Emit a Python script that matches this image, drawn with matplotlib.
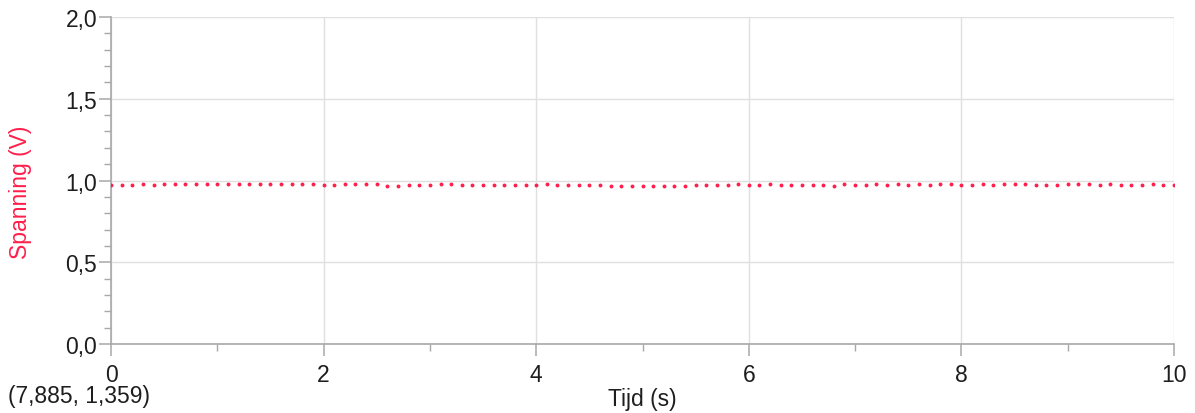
import numpy as np
import matplotlib
matplotlib.use("Agg")
import matplotlib.pyplot as plt
from matplotlib.ticker import MultipleLocator, FuncFormatter

plt.rcParams['font.family'] = ['Liberation Sans', 'DejaVu Sans']

# Sample times (s), 0.1 s interval
tijd = [round(0.1 * i, 1) for i in range(101)]

# Measured voltage (V)
spanning = [
    0.972, 0.972, 0.972, 0.976, 0.972, 0.976, 0.978, 0.976, 0.976, 0.976,
    0.978, 0.976, 0.978, 0.976, 0.978, 0.976, 0.976, 0.976, 0.976, 0.976,
    0.972, 0.972, 0.976, 0.976, 0.976, 0.976,
    0.969, 0.969, 0.974, 0.974, 0.974, 0.976, 0.976, 0.974, 0.974, 0.974,
    0.974, 0.974, 0.974, 0.974, 0.974,
    0.976, 0.974, 0.974, 0.972, 0.974, 0.972, 0.969, 0.965, 0.967, 0.965,
    0.967,
    0.969, 0.969, 0.969, 0.974, 0.974, 0.974, 0.974, 0.976, 0.974, 0.974,
    0.978, 0.974, 0.974, 0.974, 0.974, 0.974, 0.969, 0.978, 0.974, 0.974,
    0.978, 0.974, 0.978, 0.974, 0.976,
    0.972, 0.976, 0.976, 0.972, 0.972, 0.976, 0.972, 0.976, 0.976, 0.976,
    0.972, 0.972, 0.972, 0.976, 0.976, 0.976, 0.972, 0.976, 0.972, 0.972,
    0.972, 0.976, 0.972, 0.972,
]

y_ticks = [0.0, 0.5, 1.0, 1.5, 2.0]
x_ticks = [0, 2, 4, 6, 8, 10]
cursor_text = "(7,885, 1,359)"

red = '#ff1f4b'
axis_gray = '#a8a8a8'
grid_gray = '#e0e0e0'
text_col = '#1e1e1e'
fs = 16.5

fig = plt.figure(figsize=(11.95, 4.14), dpi=100)
ax = fig.add_axes([111 / 1195, 1 - 345 / 414, (1174 - 111) / 1195, (345 - 18) / 414])

ax.plot(tijd, spanning, linestyle='none', marker='o', markersize=2.8,
        markeredgewidth=0, color=red, zorder=3)

ax.set_xlim(0, 10)
ax.set_ylim(0, 2)
ax.set_xticks(x_ticks)
ax.set_yticks(y_ticks)
ax.xaxis.set_minor_locator(MultipleLocator(1))
ax.yaxis.set_minor_locator(MultipleLocator(0.1))
ax.xaxis.set_major_formatter(FuncFormatter(lambda v, p: f"{v:g}"))
ax.yaxis.set_major_formatter(FuncFormatter(lambda v, p: f"{v:.1f}".replace('.', ',')))

ax.grid(True, which='major', color=grid_gray, linewidth=1.0, zorder=0)
for s in ['top', 'right']:
    ax.spines[s].set_visible(False)
for s in ['left', 'bottom']:
    ax.spines[s].set_color(axis_gray)
    ax.spines[s].set_linewidth(1.2)

ax.tick_params(which='major', direction='out', length=8.5, width=1.1,
               color=axis_gray, labelsize=fs, labelcolor=text_col)
ax.tick_params(which='minor', direction='out', length=5, width=1.0, color=axis_gray)
ax.tick_params(axis='y', which='major', pad=1.5)
ax.tick_params(axis='x', which='major', pad=5)

ax.set_ylabel("Spanning (V)", color=red, fontsize=fs)
ax.yaxis.set_label_coords(-0.0745, 0.468)
ax.set_xlabel("Tijd (s)", color=text_col, fontsize=fs, labelpad=1)

fig.text(8 / 1195, 1 - 397 / 414, cursor_text, fontsize=fs, color=text_col,
         ha='left', va='center')

fig.savefig("out.png", dpi=100, facecolor='white')
